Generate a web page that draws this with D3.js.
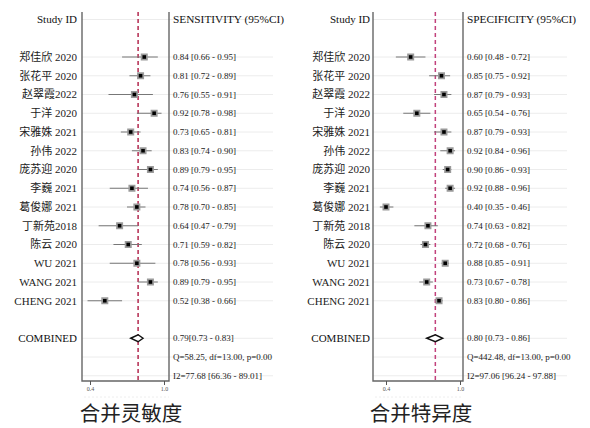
<!DOCTYPE html>
<html>
<head>
<meta charset="utf-8">
<script src="https://cdn.jsdelivr.net/npm/d3@7"></script>
<style>
  html, body { margin: 0; padding: 0; background: #fff; }
  svg { display: block; }
</style>
</head>
<body>
<svg id="chart" width="590" height="428"></svg>
<script>
// Study labels (top to bottom)
const studies = ["郑佳欣 2020", "张花平 2020", "赵翠霞2022", "于洋 2020", "宋雅姝 2021", "孙伟 2022",
  "庞苏迎 2020", "李巍 2021", "葛俊娜 2021", "丁新苑2018", "陈云 2020", "WU 2021", "WANG 2021", "CHENG 2021"];
const studiesSpec = ["郑佳欣 2020", "张花平 2020", "赵翠霞 2022", "于洋 2020", "宋雅姝 2021", "孙伟 2022",
  "庞苏迎 2020", "李巍 2021", "葛俊娜 2021", "丁新苑 2018", "陈云 2020", "WU 2021", "WANG 2021", "CHENG 2021"];

// Sensitivity estimates with 95% CI
const sensEst = [0.84, 0.81, 0.76, 0.92, 0.73, 0.83, 0.89, 0.74, 0.78, 0.64, 0.71, 0.78, 0.89, 0.52];
const sensLo  = [0.66, 0.72, 0.55, 0.78, 0.65, 0.74, 0.79, 0.56, 0.70, 0.47, 0.59, 0.56, 0.79, 0.38];
const sensHi  = [0.95, 0.89, 0.91, 0.98, 0.81, 0.90, 0.95, 0.87, 0.85, 0.79, 0.82, 0.93, 0.95, 0.66];
const sensPooled = [0.79, 0.73, 0.83];
const sensQ = "Q=58.25, df=13.00, p=0.00";
const sensI2 = "I2=77.68 [66.36 - 89.01]";

// Specificity estimates with 95% CI
const specEst = [0.60, 0.85, 0.87, 0.65, 0.87, 0.92, 0.90, 0.92, 0.40, 0.74, 0.72, 0.88, 0.73, 0.83];
const specLo  = [0.48, 0.75, 0.79, 0.54, 0.79, 0.84, 0.86, 0.88, 0.35, 0.63, 0.68, 0.85, 0.67, 0.80];
const specHi  = [0.72, 0.92, 0.93, 0.76, 0.93, 0.96, 0.93, 0.96, 0.46, 0.82, 0.76, 0.91, 0.78, 0.86];
const specPooled = [0.80, 0.73, 0.86];
const specQ = "Q=442.48, df=13.00, p=0.00";
const specI2 = "I2=97.06 [96.24 - 97.88]";

const axisTicks = [0.4, 1.0];
const xDomain = [0.4, 1.0];

const fmt = d3.format(".2f");
const serif = "'Liberation Serif', 'Times New Roman', 'Noto Sans CJK SC', serif";

const svg = d3.select("#chart");

// row layout: header, blank, 14 studies, blank, combined, Q, I2
const rowY = i => 19.5 + i * 18.75;
const frameTop = 12, frameBottom = 381;

function forest(opts) {
  const g = svg.append("g");
  const x = d3.scaleLinear().domain(xDomain).range(opts.range);
  const n = opts.est.length;

  // faint row guides
  const rows = [0];
  for (let i = 0; i < n; i++) rows.push(i + 2);
  rows.push(n + 3, n + 4, n + 5);
  g.selectAll("line.grid").data(rows).enter().append("line")
    .attr("x1", opts.frame[0]).attr("x2", opts.textX + 100)
    .attr("y1", d => rowY(d)).attr("y2", d => rowY(d))
    .attr("stroke", "#ececec").attr("stroke-width", 1);

  // frame: left, right, bottom
  g.append("path")
    .attr("d", `M${opts.frame[0]},${frameTop}V${frameBottom}H${opts.frame[1]}V${frameTop}`)
    .attr("fill", "none").attr("stroke", "#666").attr("stroke-width", 1.4);

  // pooled estimate reference line
  g.append("line")
    .attr("x1", x(opts.pooled[0])).attr("x2", x(opts.pooled[0]))
    .attr("y1", frameTop).attr("y2", frameBottom)
    .attr("stroke", opts.refColor).attr("stroke-width", 1.5)
    .attr("stroke-dasharray", "4,3");

  // bottom axis
  const axis = d3.axisBottom(x).tickValues(axisTicks).tickFormat(d3.format(".1f")).tickSize(4).tickSizeOuter(0);
  const ax = g.append("g").attr("transform", `translate(0,${frameBottom})`).call(axis);
  ax.select(".domain").remove();
  ax.selectAll(".tick line").attr("stroke", "#555");
  ax.selectAll(".tick text").attr("font-family", serif).attr("font-size", 6).attr("fill", "#555").attr("dy", "0.45em");
  g.append("line").attr("x1", opts.frame[0] + 2).attr("x2", opts.frame[1]).attr("y1", 397).attr("y2", 397)
    .attr("stroke", "#eee").attr("stroke-dasharray", "2,2");

  // headers
  g.append("text").attr("x", opts.labelX).attr("y", rowY(0)).attr("dy", "0.35em")
    .attr("text-anchor", "end").attr("font-family", serif).attr("font-size", 11).attr("fill", "#111")
    .text("Study ID");
  g.append("text").attr("x", opts.textX).attr("y", rowY(0)).attr("dy", "0.35em")
    .attr("font-family", serif).attr("font-size", 11.3).attr("fill", "#111")
    .text(opts.header);

  const idx = d3.range(n);

  // study labels
  g.selectAll("text.study").data(idx).enter().append("text")
    .attr("x", opts.labelX).attr("y", i => rowY(i + 2)).attr("dy", "0.35em")
    .attr("text-anchor", "end").attr("font-family", serif).attr("font-size", 11).attr("fill", "#222")
    .text(i => opts.labels[i]);

  // confidence intervals
  g.selectAll("line.ci").data(idx).enter().append("line")
    .attr("x1", i => x(opts.lo[i])).attr("x2", i => x(opts.hi[i]))
    .attr("y1", i => rowY(i + 2)).attr("y2", i => rowY(i + 2))
    .attr("stroke", "#777").attr("stroke-width", 1);

  // point estimates: grey box with black centre
  g.selectAll("rect.box").data(idx).enter().append("rect")
    .attr("x", i => x(opts.est[i]) - 3.5).attr("y", i => rowY(i + 2) - 3.5)
    .attr("width", 7).attr("height", 7).attr("fill", "#9a9a9a");
  g.selectAll("rect.pt").data(idx).enter().append("rect")
    .attr("x", i => x(opts.est[i]) - 1.8).attr("y", i => rowY(i + 2) - 1.8)
    .attr("width", 3.6).attr("height", 3.6).attr("fill", "#000");

  // value text
  g.selectAll("text.val").data(idx).enter().append("text")
    .attr("x", opts.textX).attr("y", i => rowY(i + 2)).attr("dy", "0.35em")
    .attr("font-family", serif).attr("font-size", 9).attr("fill", "#222")
    .text(i => `${fmt(opts.est[i])} [${fmt(opts.lo[i])} - ${fmt(opts.hi[i])}]`);

  // pooled estimate
  const yc = rowY(n + 3);
  g.append("text").attr("x", opts.labelX).attr("y", yc).attr("dy", "0.35em")
    .attr("text-anchor", "end").attr("font-family", serif).attr("font-size", 11).attr("fill", "#111")
    .text("COMBINED");
  const [pe, pl, ph] = opts.pooled;
  g.append("path")
    .attr("d", `M${x(pl)},${yc}L${x(pe)},${yc - 3.5}L${x(ph)},${yc}L${x(pe)},${yc + 3.5}Z`)
    .attr("fill", "#fff").attr("stroke", "#111").attr("stroke-width", 1.4);
  g.append("text").attr("x", opts.textX).attr("y", yc).attr("dy", "0.35em")
    .attr("font-family", serif).attr("font-size", 9).attr("fill", "#222")
    .text(`${fmt(pe)}${opts.pooledSep}[${fmt(pl)} - ${fmt(ph)}]`);
  g.append("text").attr("x", opts.textX).attr("y", rowY(n + 4)).attr("dy", "0.35em")
    .attr("font-family", serif).attr("font-size", 9).attr("fill", "#222").text(opts.q);
  g.append("text").attr("x", opts.textX).attr("y", rowY(n + 5)).attr("dy", "0.35em")
    .attr("font-family", serif).attr("font-size", 9).attr("fill", "#222").text(opts.i2);

  // caption
  g.append("text").attr("x", opts.captionX).attr("y", 421)
    .attr("text-anchor", "middle").attr("font-family", "'Noto Sans CJK SC', sans-serif")
    .attr("font-size", 20.5).attr("fill", "#222").text(opts.caption);
}

forest({
  labels: studies, est: sensEst, lo: sensLo, hi: sensHi, pooled: sensPooled,
  q: sensQ, i2: sensI2, header: "SENSITIVITY (95%CI)", pooledSep: "",
  range: [90, 164], frame: [82, 169], labelX: 77, textX: 173,
  refColor: "#b3284f", caption: "合并灵敏度", captionX: 131
});

forest({
  labels: studiesSpec, est: specEst, lo: specLo, hi: specHi, pooled: specPooled,
  q: specQ, i2: specI2, header: "SPECIFICITY (95%CI)", pooledSep: " ",
  range: [386, 460], frame: [373, 463], labelX: 370, textX: 467,
  refColor: "#c2427c", caption: "合并特异度", captionX: 421
});
</script>
</body>
</html>
